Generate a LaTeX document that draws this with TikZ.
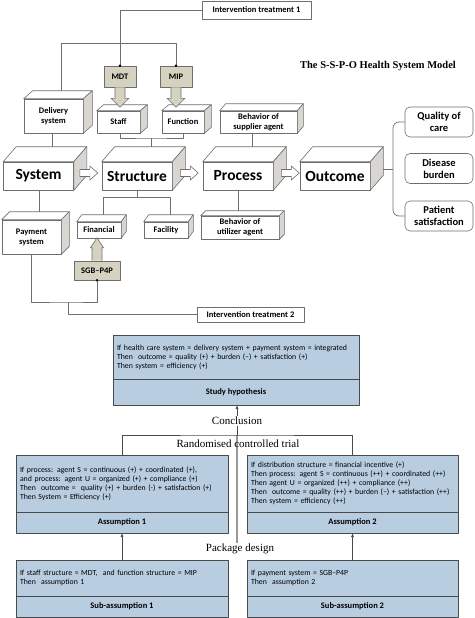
\documentclass[tikz,border=0pt]{standalone}
\usepackage{fontspec}
\setmainfont{Carlito}
\newfontfamily\titlefont{Liberation Serif}
\usepackage{tikz}
\usepackage{xcolor}
\usetikzlibrary{calc,positioning,arrows.meta}
\definecolor{side_gray}{HTML}{D9D5D1}
\definecolor{tan_fill}{HTML}{D6D2C0}
\definecolor{box_blue}{HTML}{B9CDE1}
\definecolor{line_gray}{HTML}{6E6E6E}
\definecolor{frame_dark}{HTML}{4A4A4A}

% top and right faces of a 3D box
\newcommand{\cuboid}[3]{%
  \draw[line_gray, line width=0.6pt, fill=white] (#1.north west) -- ++(#2,#3) -- ($(#1.north east)+(#2,#3)$) -- (#1.north east) -- cycle;
  \draw[line_gray, line width=0.6pt, fill=side_gray] (#1.north east) -- ++(#2,#3) -- ($(#1.south east)+(#2,#3)$) -- (#1.south east) -- cycle;
}

\tikzset{
  link/.style={line_gray, line width=0.7pt},
  plainbox/.style={draw=line_gray, fill=white, line width=0.6pt, inner sep=0pt, align=center, font=\fontsize{8.5}{9.5}\selectfont\bfseries},
  tanbox/.style={plainbox, fill=tan_fill, minimum width=32, minimum height=21},
  smallcube/.style={plainbox, font=\fontsize{8.5}{10}\selectfont\bfseries},
  bigcube/.style={plainbox, minimum width=70, minimum height=28, font=\fontsize{15.5}{17}\selectfont\bfseries},
  roundbox/.style={plainbox, rounded corners=5pt, minimum width=68, minimum height=30, font=\fontsize{10.5}{12}\selectfont\bfseries},
  tanarrow/.style={draw=line_gray, fill=tan_fill, line width=0.6pt},
  hollowarrow/.style={draw=line_gray, fill=white, line width=0.6pt},
  infobox/.style={draw=frame_dark, fill=box_blue, line width=0.8pt, outer sep=0pt, inner xsep=4pt, align=left, font=\fontsize{7.8}{9}\selectfont},
  titlebox/.style={draw=frame_dark, fill=box_blue, line width=0.8pt, outer sep=0pt, inner sep=0pt, font=\fontsize{8.5}{10}\selectfont\bfseries},
  seriflabel/.style={font=\titlefont\fontsize{11}{12}\selectfont, inner sep=1pt},
}

\begin{document}
\begin{tikzpicture}[x=1pt, y=-1pt, line join=round]
\useasboundingbox (0,0) rectangle (474,618);

% Title
\node[font=\titlefont\fontsize{10.5}{12}\selectfont\bfseries] (modeltitle) at (378,66) {The S-S-P-O Health System Model};

% Intervention treatment 1
\node[plainbox, minimum width=109, minimum height=18] (treat1) at (256.5,10) {Intervention treatment 1};
\node[tanbox] (mdt) at (120,76.5) {MDT};
\node[tanbox] (mip) at (176,76.5) {MIP};

% Second level boxes
\node[smallcube, minimum width=59, minimum height=34] (delivery) at (53.5,116) {Delivery\\system};
\node[smallcube, minimum width=43, minimum height=22] (staff) at (118.5,122) {Staff};
\node[smallcube, minimum width=42, minimum height=22] (function) at (183,122) {Function};
\node[smallcube, minimum width=77, minimum height=22] (supplier) at (258.5,122) {Behavior of\\supplier agent};
\cuboid{delivery}{9}{-8}
\cuboid{staff}{7}{-6}
\cuboid{function}{7}{-6}
\cuboid{supplier}{6}{-7}

% Main boxes
\node[bigcube] (system) at (38.5,176) {System};
\node[bigcube] (structure) at (137,176) {Structure};
\node[bigcube] (process) at (238,176) {Process};
\node[bigcube] (outcome) at (335,176) {Outcome};
\cuboid{system}{13}{-15}
\cuboid{structure}{13}{-15}
\cuboid{process}{13}{-15}
\cuboid{outcome}{13}{-15}

% Outcomes
\node[roundbox] (quality) at (439,122) {Quality of\\care};
\node[roundbox] (disease) at (439,168.5) {Disease\\burden};
\node[roundbox] (patient) at (439,216) {Patient\\satisfaction};

% Lower boxes
\node[smallcube, minimum width=59, minimum height=34] (payment) at (31.5,237) {Payment\\system};
\node[smallcube, minimum width=44, minimum height=16] (financial) at (99,230) {Financial};
\node[smallcube, minimum width=44, minimum height=16] (facility) at (166,230) {Facility};
\node[smallcube, minimum width=78, minimum height=23] (utilizer) at (240,227.5) {Behavior of\\utilizer agent};
\cuboid{payment}{8}{-8}
\cuboid{financial}{5}{-7}
\cuboid{facility}{5}{-7}
\cuboid{utilizer}{5}{-5}
\node[tanbox, minimum width=46, minimum height=19] (sgb) at (97,270.5) {SGB--P4P};

% Intervention treatment 2
\node[plainbox, minimum width=107, minimum height=15] (treat2) at (250.5,314.5) {Intervention treatment 2};

% Links of intervention 1
\coordinate (split1) at (120,43);
\draw[link] (treat1.west) -| (mdt.north);
\draw[link] (split1) -| (mip.north);
\draw[link] (split1) -| ($(delivery.north)+(7.5,-8)$);
\fill[black] (mdt.north) circle (1.4pt);
\fill[black] (mip.north) circle (1.4pt);
\draw[tanarrow] ($(mdt.south)+(-5,0)$) -- ++(0,11) -- ++(-4,0) -- ++(9,9) -- ++(9,-9) -- ++(-4,0) -- ++(0,-11);
\draw[tanarrow] ($(mip.south)+(-5,0)$) -- ++(0,11) -- ++(-4,0) -- ++(9,9) -- ++(9,-9) -- ++(-4,0) -- ++(0,-11);

% Links to main boxes
\draw[link] (delivery.south -| 52,0) -- ($(system.north)+(13.5,-15)$);
\coordinate (split2) at (151,138);
\draw[link] (staff.south -| 120,0) |- (split2) -| (function.south -| 183,0);
\draw[link] (split2) -- ($(structure.north)+(14,-15)$);
\draw[link] (supplier.south -| 252,0) -- ($(process.north)+(14,-15)$);

% Arrows between main boxes
\draw[hollowarrow] ($(system.east)+(6,-3)$) -- ++(0,-3.5) -- ++(10,0) -- ++(0,-3.5) -- ++(8,7) -- ++(-8,7) -- ++(0,-3.5) -- ++(-10,0) -- cycle;
\draw[hollowarrow] ($(structure.east)+(8,-3)$) -- ++(0,-3.5) -- ++(10,0) -- ++(0,-3.5) -- ++(8,7) -- ++(-8,7) -- ++(0,-3.5) -- ++(-10,0) -- cycle;
\draw[hollowarrow] ($(process.east)+(8,-3)$) -- ++(0,-3.5) -- ++(10,0) -- ++(0,-3.5) -- ++(8,7) -- ++(-8,7) -- ++(0,-3.5) -- ++(-10,0) -- cycle;

% Bracket to outcomes
\coordinate (split3) at (393,169);
\draw[link] ($(outcome.east)+(13,-7)$) -- (split3);
\draw[link, rounded corners=6pt] (quality.west) -| (split3) |- (patient.west);

% Links below main boxes
\draw[link] (system.south -| 39,0) -- ($(payment.north)+(7.5,-8)$);
\coordinate (split4) at (137,197);
\draw[link] (structure.south) -- (split4);
\draw[link] (split4) -| ($(financial.north)+(4,-7)$);
\draw[link] (split4) -| ($(facility.north)+(4,-7)$);
\draw[link] (process.south) -- ($(utilizer.north)+(-2,-5)$);
\draw[tanarrow] ($(sgb.north)+(-5,0)$) -- ++(0,-13) -- ++(-1.5,0) -- ++(6.5,-10) -- ++(6.5,10) -- ++(-1.5,0) -- ++(0,13);

% Links of intervention 2
\coordinate (split5) at (68,302);
\draw[link] (sgb.south) |- (split5) -| (payment.south);
\draw[link] (split5) |- (treat2.west);
\fill[black] (sgb.south) circle (1.4pt);

% Study hypothesis
\node[infobox, text width=238, minimum height=44] (hyptext) at (236,357) {If health care system = delivery system + payment system = integrated\\Then\ \ outcome = quality (+) + burden (--) + satisfaction (+)\\Then system = efficiency (+)};
\node[titlebox, minimum width=246, minimum height=26, below=0pt of hyptext] (hyptitle) {Study hypothesis};

% Assumptions
\node[infobox, text width=204, minimum height=57] (asm1text) at (122,483.5) {If process: agent S = continuous (+) + coordinated (+),\\and process: agent U = organized (+) + compliance (+)\\Then\ \ outcome =\ \ quality (+) + burden (-) + satisfaction (+)\\Then System = Efficiency (+)};
\node[titlebox, minimum width=212, minimum height=21, below=0pt of asm1text] (asm1title) {Assumption 1};
\node[infobox, text width=203, minimum height=57] (asm2text) at (352.5,483.5) {If distribution structure = financial incentive (+)\\Then process: agent S = continuous (++) + coordinated (++)\\Then agent U = organized (++) + compliance (++)\\Then\ \ outcome = quality (++) + burden (--) + satisfaction (++)\\Then system = efficiency (++)};
\node[titlebox, minimum width=211, minimum height=21, below=0pt of asm2text] (asm2title) {Assumption 2};

% Sub-assumptions
\node[infobox, text width=204, minimum height=36] (sub1text) at (122,578) {If staff structure = MDT,\ \ and function structure = MIP\\Then\ \ assumption 1};
\node[titlebox, minimum width=212, minimum height=21, below=0pt of sub1text] (sub1title) {Sub-assumption 1};
\node[infobox, text width=203, minimum height=36] (sub2text) at (352.5,578) {If payment system = SGB--P4P\\Then\ \ assumption 2};
\node[titlebox, minimum width=211, minimum height=21, below=0pt of sub2text] (sub2title) {Sub-assumption 2};

% Conclusion and trial links
\coordinate (rct) at (237,435);
\coordinate (pkg) at (237,543);
\draw[gray!80, line width=1.2pt] (pkg) -- (rct);
\draw[frame_dark, line width=0.7pt] (asm1text.north) |- (rct) -| (asm2text.north);
\draw[frame_dark, line width=0.7pt, -{Latex[length=4pt,width=3pt]}] (rct) -- (rct |- hyptitle.south);
\draw[frame_dark, line width=0.7pt, -{Latex[length=4pt,width=3pt]}] (sub1text.north) -- (asm1title.south);
\draw[frame_dark, line width=0.7pt, -{Latex[length=4pt,width=3pt]}] (sub2text.north) -- (asm2title.south);
\node[seriflabel, fill=white] (concl) at (237,421) {Conclusion};
\node[seriflabel] (trial) at (238,444) {Randomised controlled trial};
\node[seriflabel, fill=white] (design) at (240,549) {Package design};
\end{tikzpicture}
\end{document}
